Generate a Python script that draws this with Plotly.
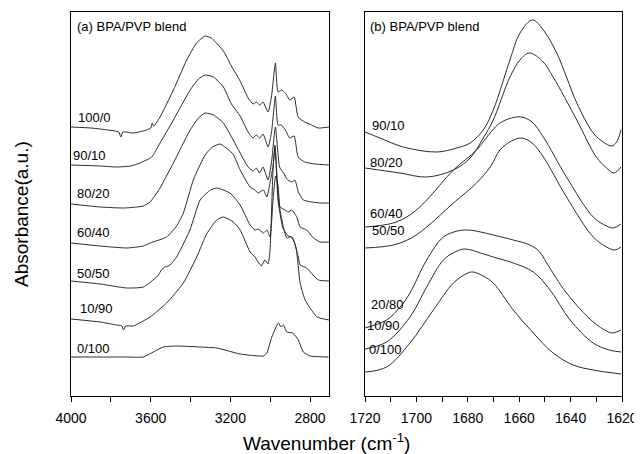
import plotly.graph_objects as go

# ---- panel (a): 4000-2700 cm-1, stacked spectra (offset a.u.) ----
wn_a_100_0 = [4000, 3900, 3854, 3780, 3760, 3750, 3740, 3687, 3620, 3600, 3592, 3585, 3553, 3486, 3419, 3370,
              3327, 3296, 3235, 3195, 3151, 3111, 3086, 3070, 3053, 3036, 3011, 2994, 2974, 2961, 2944, 2924,
              2902, 2880, 2860, 2827, 2793, 2760, 2705]
ab_a_100_0 = [269, 268, 267, 265, 264, 259, 264, 263, 266, 268, 273, 270, 279, 306, 336, 353,
              360, 358, 345, 330, 315, 298, 292, 294, 291, 294, 284, 299, 333, 304, 306, 303,
              296, 299, 279, 274, 271, 268, 269]

wn_a_90_10 = [4000, 3854, 3771, 3700, 3654, 3595, 3553, 3486, 3402, 3360, 3327, 3285, 3235, 3195, 3151, 3111,
              3086, 3070, 3053, 3036, 3011, 2994, 2974, 2961, 2944, 2924, 2902, 2880, 2860, 2827, 2776, 2705]
ab_a_90_10 = [231, 230, 229, 230, 233, 239, 253, 276, 306, 317, 321, 319, 309, 292, 280, 264,
              258, 261, 258, 262, 249, 263, 300, 271, 271, 266, 258, 260, 239, 234, 232, 231]

wn_a_80_20 = [4000, 3854, 3731, 3637, 3603, 3553, 3537, 3486, 3402, 3360, 3327, 3285, 3235, 3151, 3111,
              3086, 3070, 3053, 3036, 3011, 2994, 2974, 2953, 2930, 2917, 2892, 2876, 2859, 2834, 2792, 2750, 2705]
ab_a_80_20 = [192, 189, 188, 190, 194, 208, 214, 233, 266, 278, 283, 281, 273, 243, 229,
              225, 228, 223, 229, 216, 233, 269, 229, 222, 217, 214, 216, 204, 196, 194, 193, 193]

wn_a_60_40 = [4000, 3854, 3720, 3637, 3603, 3520, 3470, 3436, 3386, 3327, 3290, 3252, 3187, 3151, 3101,
              3076, 3061, 3034, 3017, 3001, 2986, 2976, 2966, 2961, 2951, 2926, 2910, 2892, 2867, 2850,
              2817, 2783, 2750, 2705]
ab_a_60_40 = [153, 150, 148, 150, 153, 159, 170, 183, 216, 241, 249, 252, 242, 226, 209,
              206, 203, 206, 199, 213, 230, 248, 220, 201, 189, 186, 184, 186, 179, 169,
              166, 158, 154, 154]

wn_a_50_50 = [4000, 3854, 3720, 3637, 3570, 3537, 3503, 3470, 3403, 3352, 3300, 3269, 3202, 3151, 3101,
              3076, 3061, 3034, 3017, 3001, 2986, 2973, 2961, 2951, 2934, 2917, 2900, 2884, 2859, 2850,
              2817, 2785, 2758, 2705]
ab_a_50_50 = [115, 112, 108, 109, 119, 128, 131, 139, 166, 196, 206, 208, 203, 191, 171,
              166, 167, 163, 166, 159, 196, 220, 211, 186, 169, 158, 159, 156, 139, 131,
              128, 121, 116, 115]

wn_a_10_90 = [4000, 3854, 3771, 3745, 3737, 3725, 3687, 3603, 3520, 3436, 3369, 3319, 3269, 3235, 3185,
              3151, 3101, 3076, 3061, 3045, 3027, 3011, 3001, 2986, 2976, 2961, 2936, 2910, 2890, 2870,
              2850, 2825, 2800, 2765, 2705]
ab_a_10_90 = [77, 74, 71, 70, 66, 70, 70, 79, 93, 113, 139, 162, 176, 179, 174,
              166, 144, 139, 134, 130, 136, 132, 146, 226, 251, 196, 168, 160, 159, 148,
              113, 96, 88, 79, 76]

wn_a_0_100 = [4000, 3854, 3724, 3637, 3587, 3537, 3470, 3352, 3268, 3151, 3034, 3017, 2992, 2959, 2946,
              2934, 2917, 2887, 2859, 2834, 2800, 2708]
ab_a_0_100 = [39, 39, 39, 39, 44, 49, 50, 49, 48, 42, 40, 43, 59, 73, 69,
              71, 64, 63, 56, 44, 40, 39]

# ---- panel (b): 1720-1620 cm-1 ----
wn_b_90_10 = [1720, 1714.2, 1705.1, 1692.1, 1684.3, 1679.1, 1674, 1670.1, 1663.6, 1659.7, 1654.8, 1650.6,
              1645.4, 1641.6, 1637.6, 1631.2, 1627.3, 1624, 1622.1, 1620.4]
ab_b_90_10 = [264, 258, 249, 244, 248, 253, 266, 286, 336, 363, 376, 366,
              343, 319, 293, 263, 254, 250, 254, 266]

wn_b_80_20 = [1720, 1706.4, 1696, 1685.6, 1679.1, 1674, 1670.1, 1663.6, 1659.7, 1656.1, 1651, 1646.8,
              1637.6, 1630, 1626, 1623.1, 1620.4]
ab_b_80_20 = [228, 223, 219, 226, 238, 258, 276, 319, 336, 343, 335, 319,
              276, 239, 228, 223, 229]

wn_b_60_40 = [1720, 1709, 1702, 1696, 1685.6, 1676.6, 1671, 1667.5, 1663, 1659.1, 1655, 1650.6,
              1641.6, 1631.2, 1626, 1623.4, 1620.4]
ab_b_60_40 = [169, 173, 182, 196, 226, 246, 264, 273, 278, 279, 274, 259,
              219, 179, 170, 168, 172]

wn_b_50_50 = [1720, 1709, 1702, 1696, 1685.6, 1676.6, 1671, 1667.5, 1663, 1659.1, 1655, 1650.6,
              1641.6, 1631.2, 1626, 1622.8, 1620.4]
ab_b_50_50 = [148, 151, 158, 169, 193, 213, 230, 246, 255, 258, 253, 239,
              199, 159, 149, 146, 149]

wn_b_20_80 = [1720, 1711.6, 1706, 1702.5, 1696, 1689.5, 1684, 1679.8, 1675, 1670.1, 1662.3, 1655.8,
              1652, 1649.3, 1641.6, 1631.2, 1626, 1623.7, 1620.4]
ab_b_20_80 = [68, 76, 90, 103, 136, 159, 165, 166, 164, 161, 156, 151,
              144, 133, 103, 74, 65, 63, 66]

wn_b_10_90 = [1720, 1711.6, 1702.5, 1696, 1689.5, 1685, 1681.1, 1675, 1670.1, 1662.3, 1654.5, 1648,
              1640.2, 1631.2, 1625, 1620.4]
ab_b_10_90 = [47, 54, 79, 109, 136, 144, 147, 143, 139, 133, 124, 106,
              76, 53, 46, 44]

wn_b_0_100 = [1720, 1711.6, 1702.5, 1693.4, 1685.6, 1680, 1677.9, 1674, 1670.1, 1662.3, 1654.5, 1646.8,
              1639, 1631.2, 1620.4]
ab_b_0_100 = [24, 29, 53, 86, 113, 123, 124, 120, 113, 86, 63, 43,
              31, 26, 22]

panel_a = [("100/0", wn_a_100_0, ab_a_100_0, 3975, 279),
           ("90/10", wn_a_90_10, ab_a_90_10, 4000, 241),
           ("80/20", wn_a_80_20, ab_a_80_20, 3980, 203),
           ("60/40", wn_a_60_40, ab_a_60_40, 3981, 164),
           ("50/50", wn_a_50_50, ab_a_50_50, 3981, 123),
           ("10/90", wn_a_10_90, ab_a_10_90, 3965, 88),
           ("0/100", wn_a_0_100, ab_a_0_100, 3981, 48)]

panel_b = [("90/10", wn_b_90_10, ab_b_90_10, 1718.1, 271),
           ("80/20", wn_b_80_20, ab_b_80_20, 1718.8, 234),
           ("60/40", wn_b_60_40, ab_b_60_40, 1718.8, 183),
           ("50/50", wn_b_50_50, ab_b_50_50, 1718.1, 166),
           ("20/80", wn_b_20_80, ab_b_20_80, 1718.5, 92),
           ("10/90", wn_b_10_90, ab_b_10_90, 1720, 71),
           ("0/100", wn_b_0_100, ab_b_0_100, 1719.2, 47)]

# page body has an 8px margin, so the figure is drawn 8px in from the corner
OFF = 8
W, H = 642 - OFF, 454 - OFF
FONT = "Liberation Sans, Arial, sans-serif"
LINE = "#2b2b2b"


def fx(px):
    return (px - OFF) / W


def fy(py):
    return 1 - (py - OFF) / H


fig = go.Figure()
annotations = []

for name, x, y, lx, ly in panel_a:
    fig.add_trace(go.Scatter(x=x, y=y, mode="lines", xaxis="x", yaxis="y",
                             line=dict(color=LINE, width=1, shape="spline", smoothing=0.5),
                             showlegend=False, name=name))
    annotations.append(dict(x=lx, y=ly, xref="x", yref="y", text=name, showarrow=False,
                            xanchor="left", yanchor="middle", font=dict(size=13, color="black")))

for name, x, y, lx, ly in panel_b:
    fig.add_trace(go.Scatter(x=x, y=y, mode="lines", xaxis="x2", yaxis="y2",
                             line=dict(color=LINE, width=1, shape="spline", smoothing=1.0),
                             showlegend=False, name=name))
    annotations.append(dict(x=lx, y=ly, xref="x2", yref="y2", text=name, showarrow=False,
                            xanchor="left", yanchor="middle", font=dict(size=13, color="black")))

# panel titles
annotations.append(dict(x=fx(75), y=fy(26.7), xref="paper", yref="paper", text="(a) BPA/PVP blend",
                        showarrow=False, xanchor="left", yanchor="middle", font=dict(size=13, color="black")))
annotations.append(dict(x=fx(368), y=fy(26.7), xref="paper", yref="paper", text="(b) BPA/PVP blend",
                        showarrow=False, xanchor="left", yanchor="middle", font=dict(size=13, color="black")))
# axis titles
annotations.append(dict(x=fx(326), y=fy(442), xref="paper", yref="paper",
                        text="Wavenumber (cm<sup>-1</sup>)", showarrow=False,
                        xanchor="center", yanchor="middle", font=dict(size=19, color="black")))
annotations.append(dict(x=fx(21), y=fy(214), xref="paper", yref="paper", text="Absorbance(a.u.)",
                        textangle=-90, showarrow=False, xanchor="center", yanchor="middle",
                        font=dict(size=19, color="black")))

xcommon = dict(showline=True, linecolor="black", linewidth=1, mirror=True, showgrid=False,
               zeroline=False, ticks="outside", ticklen=5, tickcolor="black", automargin=False,
               ticklabelstandoff=4, tickfont=dict(size=14, color="black"))
ycommon = dict(showline=True, linecolor="black", linewidth=1, mirror=True, showgrid=False,
               zeroline=False, showticklabels=False, ticks="", range=[0, 384], automargin=False)

ydom = [fy(396), fy(12)]

fig.update_layout(
    template="none",
    width=W, height=H,
    margin=dict(l=0, r=0, t=0, b=0, pad=0, autoexpand=False),
    paper_bgcolor="white", plot_bgcolor="white",
    font=dict(family=FONT, color="black"),
    xaxis=dict(xcommon, domain=[fx(71), fx(329)], range=[4000, 2705],
               tickvals=[4000, 3600, 3200, 2800],
               minor=dict(tickvals=[3800, 3400, 3000], ticks="outside", ticklen=5, tickcolor="black")),
    yaxis=dict(ycommon, domain=ydom, anchor="x"),
    xaxis2=dict(xcommon, domain=[fx(365), fx(622)], range=[1720, 1620], anchor="y2",
                tickvals=[1720, 1700, 1680, 1660, 1640, 1620],
                minor=dict(tickvals=[1710, 1690, 1670, 1650, 1630], ticks="outside", ticklen=5,
                           tickcolor="black")),
    yaxis2=dict(ycommon, domain=ydom, anchor="x2"),
    annotations=annotations,
)

fig.write_html("out.html")
